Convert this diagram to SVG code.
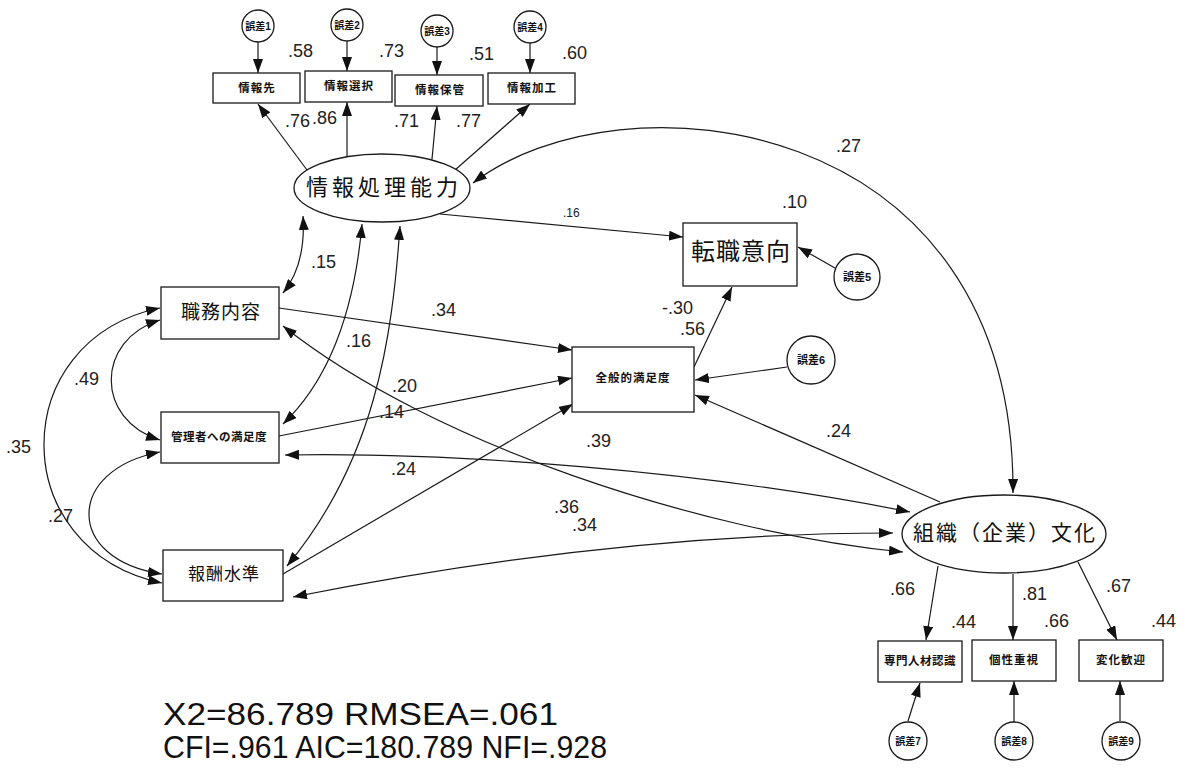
<svg xmlns="http://www.w3.org/2000/svg" width="1187" height="776" viewBox="0 0 1187 776">
<style>
.ln{fill:none;stroke:#1a1a1a;stroke-width:1.2}
.one{marker-end:url(#ah)}
.two{marker-start:url(#ah);marker-end:url(#ah)}
.box{fill:#fff;stroke:#1a1a1a;stroke-width:1.3}
.num{font-family:"Liberation Sans",Arial,sans-serif;font-size:18px;fill:#222}
.jp{font-family:"Liberation Sans","Noto Sans CJK JP",sans-serif;text-anchor:middle;fill:#111;dominant-baseline:central}
.s{font-size:11.5px;font-weight:bold;letter-spacing:1px}
.e{font-size:10px;font-weight:bold}
.stat{font-family:"Liberation Sans",Arial,sans-serif;font-size:31px;fill:#111}
</style>
<defs>
<marker id="ah" markerUnits="userSpaceOnUse" markerWidth="14" markerHeight="10" refX="14" refY="5" orient="auto-start-reverse">
<path d="M0,0 L14,5 L0,10 z" fill="#111"/>
</marker>
</defs>
<rect width="1187" height="776" fill="#fff"/>

<g id="connectors">
<path class="ln one" d="M258,42 L258,73"/>
<path class="ln one" d="M347,41 L347,71"/>
<path class="ln one" d="M437,47 L437,75"/>
<path class="ln one" d="M530,43 L530,73"/>
<path class="ln one" d="M307,170 L258,104"/>
<path class="ln one" d="M347,157 L347,102"/>
<path class="ln one" d="M432,159 L437,106"/>
<path class="ln one" d="M455,170 L530,104"/>
<path class="ln one" d="M440,214 L683,237"/>
<path class="ln two" d="M1013,493 C1015,110 620,70 473,183"/>
<path class="ln two" d="M303,216 Q306,265 283,293"/>
<path class="ln two" d="M362,224 Q350,360 283,424"/>
<path class="ln two" d="M400,226 C392,340 375,460 287,566"/>
<path class="ln one" d="M279,308 L572,350"/>
<path class="ln one" d="M279,436 L572,378"/>
<path class="ln one" d="M283,574 L573,404"/>
<path class="ln two" d="M283,326 C433,445 703,532 903,552"/>
<path class="ln two" d="M285,455 C450,452 700,470 910,512"/>
<path class="ln two" d="M293,597 Q613,533 893,533"/>
<path class="ln two" d="M160,320 C95,340 95,420 160,440"/>
<path class="ln two" d="M160,308 C5,340 5,550 162,583"/>
<path class="ln two" d="M160,452 C65,470 65,560 162,574"/>
<path class="ln one" d="M694,367 L732,287"/>
<path class="ln one" d="M835,268 L798,247"/>
<path class="ln one" d="M787,367 L695,380"/>
<path class="ln one" d="M940,502 L695,395"/>
<path class="ln one" d="M938,566 L926,640"/>
<path class="ln one" d="M1013,574 L1013,640"/>
<path class="ln one" d="M1078,562 L1117,640"/>
<path class="ln one" d="M908,721 L920,683"/>
<path class="ln one" d="M1014,722 L1014,681"/>
<path class="ln one" d="M1120,721 L1120,681"/>
</g>

<g id="e1"><circle class="box" cx="258" cy="26" r="16"/><text class="jp e" x="258" y="26">誤差1</text></g>
<g id="e2"><circle class="box" cx="347" cy="25" r="16"/><text class="jp e" x="347" y="25">誤差2</text></g>
<g id="e3"><circle class="box" cx="437" cy="31" r="16"/><text class="jp e" x="437" y="31">誤差3</text></g>
<g id="e4"><circle class="box" cx="530" cy="27" r="16"/><text class="jp e" x="530" y="27">誤差4</text></g>

<g id="v1"><rect class="box" x="213" y="73" width="87" height="30"/><text class="jp s" x="257" y="88">情報先</text></g>
<g id="v2"><rect class="box" x="305" y="71" width="87" height="31"/><text class="jp s" x="349" y="86">情報選択</text></g>
<g id="v3"><rect class="box" x="395" y="75" width="88" height="31"/><text class="jp s" x="440" y="90">情報保管</text></g>
<g id="v4"><rect class="box" x="488" y="73" width="87" height="31"/><text class="jp s" x="532" y="88">情報加工</text></g>

<g id="info"><ellipse class="box" cx="382" cy="188" rx="88" ry="34"/><text class="jp" x="384" y="187" style="font-size:22px;letter-spacing:4px">情報処理能力</text></g>

<g id="turnover"><rect class="box" x="683" y="223" width="114" height="63"/><text class="jp" x="741" y="251" style="font-size:24px;letter-spacing:1px">転職意向</text></g>
<g id="e5"><circle class="box" cx="857" cy="277" r="23"/><text class="jp e" x="857" y="277" style="font-size:11px">誤差5</text></g>

<g id="sat"><rect class="box" x="572" y="347" width="122" height="65"/><text class="jp s" x="633" y="378">全般的満足度</text></g>
<g id="e6"><circle class="box" cx="811" cy="360" r="24"/><text class="jp e" x="811" y="360" style="font-size:11px">誤差6</text></g>

<g id="job"><rect class="box" x="161" y="287" width="118" height="52"/><text class="jp" x="221" y="312" style="font-size:19px;letter-spacing:1px">職務内容</text></g>
<g id="mgr"><rect class="box" x="161" y="412" width="118" height="51"/><text class="jp s" x="219" y="437" style="letter-spacing:0.5px">管理者への満足度</text></g>
<g id="pay"><rect class="box" x="163" y="550" width="120" height="51"/><text class="jp" x="224" y="574" style="font-size:17px;letter-spacing:1px">報酬水準</text></g>

<g id="org"><ellipse class="box" cx="1004" cy="534" rx="102" ry="39"/><text class="jp" x="1005" y="532" style="font-size:21px;letter-spacing:2px">組織（企業）文化</text></g>

<g id="o1"><rect class="box" x="878" y="641" width="84" height="41"/><text class="jp s" x="920" y="661" style="letter-spacing:0.5px">専門人材認識</text></g>
<g id="o2"><rect class="box" x="972" y="640" width="84" height="41"/><text class="jp s" x="1014" y="660">個性重視</text></g>
<g id="o3"><rect class="box" x="1079" y="640" width="84" height="41"/><text class="jp s" x="1121" y="660">変化歓迎</text></g>

<g id="e7"><circle class="box" cx="908" cy="741" r="19"/><text class="jp e" x="908" y="741">誤差7</text></g>
<g id="e8"><circle class="box" cx="1014" cy="741" r="19"/><text class="jp e" x="1014" y="741">誤差8</text></g>
<g id="e9"><circle class="box" cx="1121" cy="741" r="19"/><text class="jp e" x="1121" y="741">誤差9</text></g>

<g id="labels">
<text class="num" x="288" y="57">.58</text>
<text class="num" x="379" y="57">.73</text>
<text class="num" x="469" y="60">.51</text>
<text class="num" x="562" y="59">.60</text>
<text class="num" x="285" y="127">.76</text>
<text class="num" x="312" y="124">.86</text>
<text class="num" x="394" y="127">.71</text>
<text class="num" x="456" y="127">.77</text>
<text class="num" x="563" y="217" style="font-size:12px">.16</text>
<text class="num" x="836" y="152">.27</text>
<text class="num" x="782" y="208">.10</text>
<text class="num" x="311" y="268">.15</text>
<text class="num" x="346" y="347">.16</text>
<text class="num" x="431" y="316">.34</text>
<text class="num" x="662" y="314">-.30</text>
<text class="num" x="680" y="335">.56</text>
<text class="num" x="74" y="385">.49</text>
<text class="num" x="6" y="453">.35</text>
<text class="num" x="48" y="522">.27</text>
<text class="num" x="392" y="392">.20</text>
<text class="num" x="379" y="418">.14</text>
<text class="num" x="391" y="475">.24</text>
<text class="num" x="586" y="447">.39</text>
<text class="num" x="826" y="437">.24</text>
<text class="num" x="554" y="513">.36</text>
<text class="num" x="572" y="531">.34</text>
<text class="num" x="890" y="595">.66</text>
<text class="num" x="1022" y="600">.81</text>
<text class="num" x="1106" y="592">.67</text>
<text class="num" x="951" y="628">.44</text>
<text class="num" x="1044" y="627">.66</text>
<text class="num" x="1151" y="627">.44</text>
</g>

<g id="stats">
<text class="stat" x="163" y="725" textLength="395" lengthAdjust="spacingAndGlyphs">X2=86.789 RMSEA=.061</text>
<text class="stat" x="163" y="758" textLength="444" lengthAdjust="spacingAndGlyphs">CFI=.961 AIC=180.789 NFI=.928</text>
</g>
</svg>
